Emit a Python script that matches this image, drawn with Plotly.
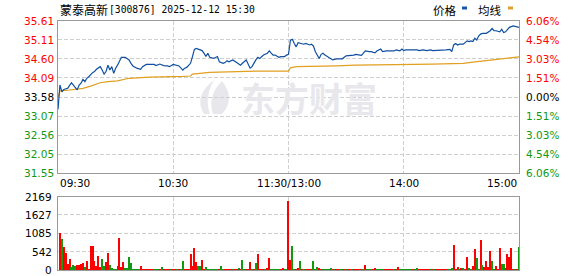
import plotly.graph_objects as go

W, H = 578, 276

# ---------------- data ----------------
stock_name = "蒙泰高新"
stock_info = "[300876] 2025-12-12 15:30"
prev_close = 33.58
price_ticks = [35.61, 35.11, 34.60, 34.09, 33.58, 33.07, 32.56, 32.05, 31.55]
pct_ticks = ["6.06%", "4.54%", "3.03%", "1.51%", "0.00%", "1.51%", "3.03%", "4.54%", "6.06%"]
vol_ticks = [0, 542, 1085, 1627, 2169]
time_labels = ["09:30", "10:30", "11:30/13:00", "14:00", "15:00"]
legend_labels = ["价格", "均线"]
watermark = "东方财富"

price_times = [
    "09:30", "09:31", "09:32", "09:33", "09:35", "09:37", "09:38", "09:39", "09:40", "09:41",
    "09:42", "09:43", "09:44", "09:45", "09:46", "09:48", "09:49", "09:50", "09:52", "09:53",
    "09:54", "09:55", "09:56", "09:57", "09:58", "09:59", "10:00", "10:01", "10:02", "10:03",
    "10:05", "10:07", "10:08", "10:09", "10:11", "10:13", "10:14", "10:16", "10:20", "10:21",
    "10:23", "10:25", "10:27", "10:28", "10:30", "10:32", "10:33", "10:35", "10:36", "10:37",
    "10:39", "10:40", "10:41", "10:42", "10:44", "10:45", "10:46", "10:47", "10:48", "10:49",
    "10:51", "10:53", "10:54", "10:56", "10:57", "10:58", "10:59", "11:01", "11:03", "11:05",
    "11:06", "11:08", "11:10", "11:11", "11:13", "11:14", "11:15", "11:17", "11:19", "11:20",
    "11:21", "11:22", "11:23", "11:25", "11:26", "11:28", "11:29", "11:30",
    "13:01", "13:02", "13:03", "13:04", "13:05", "13:06", "13:08", "13:09", "13:11", "13:12",
    "13:13", "13:14", "13:15", "13:16", "13:17", "13:18", "13:19", "13:21", "13:22", "13:23",
    "13:25", "13:27", "13:28", "13:30", "13:32", "13:34", "13:35", "13:38", "13:39", "13:40",
    "13:42", "13:43", "13:45", "13:46", "13:48", "13:49", "13:51", "13:53", "13:55", "13:56",
    "13:58", "13:59", "14:00", "14:01", "14:03", "14:05", "14:07", "14:08", "14:10", "14:12",
    "14:14", "14:15", "14:17", "14:19", "14:21", "14:22", "14:24", "14:25", "14:26", "14:27",
    "14:28", "14:29", "14:31", "14:32", "14:33", "14:34", "14:35", "14:36", "14:37", "14:38",
    "14:39", "14:40", "14:41", "14:43", "14:45", "14:46", "14:47", "14:48", "14:50", "14:51",
    "14:52", "14:53", "14:54", "14:55", "14:57", "14:59", "15:00",
]
price_values = [
    33.25, 33.90, 33.72, 33.78, 33.81, 33.96, 33.90, 33.83, 33.77, 33.90,
    33.95, 34.05, 33.99, 34.08, 34.12, 34.23, 34.26, 34.32, 34.39, 34.30,
    34.19, 34.26, 34.43, 34.30, 34.39, 34.21, 34.35, 34.43, 34.52, 34.64,
    34.64, 34.57, 34.48, 34.41, 34.35, 34.32, 34.39, 34.45, 34.45, 34.42,
    34.46, 34.42, 34.41, 34.39, 34.45, 34.42, 34.41, 34.30, 34.35, 34.37,
    34.48, 34.66, 34.85, 34.88, 34.84, 34.82, 34.75, 34.66, 34.75, 34.64,
    34.61, 34.66, 34.52, 34.48, 34.50, 34.55, 34.52, 34.57, 34.50, 34.43,
    34.48, 34.57, 34.35, 34.39, 34.57, 34.64, 34.61, 34.70, 34.75, 34.81,
    34.75, 34.70, 34.70, 34.64, 34.66, 34.66, 34.70, 34.72,
    35.10, 35.12, 35.01, 34.92, 35.03, 35.01, 34.99, 35.01, 34.97, 34.99,
    34.94, 34.79, 34.70, 34.61, 34.72, 34.75, 34.70, 34.64, 34.61, 34.57,
    34.60, 34.61, 34.60, 34.68, 34.68, 34.70, 34.72, 34.69, 34.75, 34.81,
    34.79, 34.79, 34.76, 34.81, 34.86, 34.79, 34.81, 34.82, 34.81, 34.84,
    34.81, 34.86, 34.82, 34.84, 34.84, 34.85, 34.84, 34.82, 34.84, 34.82,
    34.84, 34.82, 34.82, 34.84, 34.82, 34.84, 34.85, 34.79, 34.97, 35.01,
    34.97, 34.99, 34.99, 35.03, 35.08, 35.06, 35.08, 35.06, 35.15, 35.10,
    35.21, 35.26, 35.28, 35.28, 35.35, 35.41, 35.35, 35.35, 35.32, 35.39,
    35.30, 35.32, 35.39, 35.44, 35.48, 35.46, 35.44,
]

avg_times = [
    "09:30", "09:31", "09:35", "09:40", "09:43", "09:47", "09:52", "09:56", "10:01", "10:07",
    "10:18", "10:35", "10:39", "10:40", "10:49", "11:13", "11:30", "13:01", "13:04", "13:25",
    "13:35", "14:15", "14:31", "14:36", "14:43", "14:50", "14:55", "15:00",
]
avg_values = [
    33.57, 33.74, 33.76, 33.79, 33.81, 33.87, 33.96, 33.99, 34.01, 34.08,
    34.11, 34.13, 34.14, 34.19, 34.24, 34.27, 34.27, 34.36, 34.39, 34.41,
    34.43, 34.46, 34.48, 34.51, 34.55, 34.59, 34.63, 34.65,
]

# volume per minute, 09:31 .. 11:30 then 13:01 .. 15:00
volumes = [
    1100, 920, 680, 530, 200, 350, 110, 170, 140, 150,
    170, 200, 230, 110, 290, 45, 710, 710, 290, 140,
    440, 110, 350, 140, 260, 530, 170, 60, 45, 45,
    140, 950, 110, 260, 60, 60, 410, 230, 45, 45,
    45, 45, 140, 45, 55, 45, 45, 55, 45, 45,
    45, 55, 45, 110, 45, 45, 55, 45, 45, 55,
    45, 45, 55, 45, 290, 45, 55, 45, 500, 140,
    650, 260, 140, 140, 320, 45, 110, 45, 55, 45,
    45, 55, 45, 45, 140, 45, 55, 45, 45, 55,
    45, 45, 55, 60, 45, 320, 45, 55, 45, 260,
    45, 55, 230, 500, 45, 55, 45, 45, 80, 380,
    45, 55, 45, 45, 55, 45, 60, 45, 55, 2040,
    320, 710, 45, 55, 60, 290, 45, 55, 45, 45,
    55, 45, 290, 45, 110, 60, 45, 55, 45, 45,
    55, 60, 45, 45, 55, 45, 45, 55, 45, 45,
    55, 45, 45, 55, 45, 45, 55, 45, 45, 170,
    45, 55, 45, 45, 60, 45, 55, 45, 45, 55,
    45, 45, 55, 45, 45, 55, 110, 45, 45, 55,
    45, 45, 55, 45, 45, 55, 60, 45, 45, 55,
    45, 45, 55, 45, 45, 55, 45, 45, 55, 45,
    45, 55, 45, 45, 60, 740, 45, 110, 45, 80,
    60, 45, 410, 80, 45, 140, 640, 380, 45, 900,
    170, 110, 290, 110, 590, 290, 45, 140, 45, 650,
    200, 200, 80, 500, 410, 650, 45, 45, 45, 680,
]
# r = up minute (red), g = down minute (green)
volume_dirs = "".join([
    "rgrrrrgggr", "rrrgrrrrrr", "rrggrrgggg", "rrrrgggggg", "ggrrrrrrrg", "ggrgrgrrgr",
    "rgrggrrrrr", "rrggrrgggg", "gggrggrrrr", "grrgrggrrr", "grgrrrrgrr", "gggggrrggr",
    "rggrrgrgrr", "rrgggrrggg", "ggrgrrggrg", "rrgrrrgrgr", "gggrrggggr", "rrrrgrrggg",
    "ggggrggrrr", "rrrgrgrrrr", "rrgggrrrgr", "grrggrrggr", "grrrrggrrr", "ggrrrrrgrg",
])

# ---------------- helpers ----------------
def to_idx(t):
    h, m = map(int, t.split(":"))
    mins = h * 60 + m
    if mins <= 11 * 60 + 30:
        return mins - (9 * 60 + 30)
    return 120 + mins - 13 * 60

def fmt(mins):
    return "%02d:%02d" % (mins // 60, mins % 60)

vol_times = [fmt(9 * 60 + 30 + k) for k in range(1, 121)] + [fmt(13 * 60 + k) for k in range(1, 121)]

def pxx(x):
    return x / W

def pxy(y):
    return 1 - y / H

RED = "#ff0000"
GREEN = "#119911"
BLUE = "#0f4f9f"
ORANGE = "#e0a020"
GRID = "#cfcfcf"
FRAME = "#9a9a9a"
FONT = "DejaVu Sans"

fig = go.Figure()

fig.add_trace(go.Scatter(
    x=[to_idx(t) for t in avg_times], y=avg_values, mode="lines",
    line=dict(color=ORANGE, width=1.2), xaxis="x", yaxis="y", hoverinfo="skip",
))
fig.add_trace(go.Scatter(
    x=[to_idx(t) for t in price_times], y=price_values, mode="lines",
    line=dict(color=BLUE, width=1.2), xaxis="x", yaxis="y", hoverinfo="skip",
))
fig.add_trace(go.Bar(
    x=[to_idx(t) for t in vol_times], y=volumes, width=0.55,
    marker=dict(color=[RED if d == "r" else GREEN for d in volume_dirs], line=dict(width=0)),
    xaxis="x2", yaxis="y2", hoverinfo="skip",
))

x_dom = [pxx(58), pxx(519)]
axis_common = dict(
    showline=True, mirror=True, linecolor=FRAME, linewidth=1,
    showgrid=True, gridcolor=GRID, gridwidth=1, griddash="4px,2px",
    zeroline=False, ticks="", showticklabels=False, fixedrange=True,
)

fig.update_layout(
    width=W, height=H, margin=dict(l=0, r=0, t=0, b=0),
    paper_bgcolor="white", plot_bgcolor="white", showlegend=False,
    bargap=0,
    xaxis=dict(domain=x_dom, range=[0, 240], tickvals=[60, 120, 180], anchor="y", **axis_common),
    yaxis=dict(domain=[pxy(173), pxy(21)], range=[price_ticks[-1], price_ticks[0]],
               tickvals=price_ticks[1:-1], anchor="x", **axis_common),
    xaxis2=dict(domain=x_dom, range=[0, 240], tickvals=[60, 120, 180], anchor="y2", **axis_common),
    yaxis2=dict(domain=[pxy(270), pxy(196.5)], range=[vol_ticks[0], vol_ticks[-1]],
                tickvals=vol_ticks[1:-1], anchor="x2", **axis_common),
)

ann = []
# watermark
ann.append(dict(x=pxx(309), y=pxy(97), xref="paper", yref="paper", text="<b>" + watermark + "</b>",
                showarrow=False, font=dict(family="Noto Sans CJK SC", size=34, color="#e8e8ec")))

def tick_color(v):
    if abs(v - prev_close) < 1e-6:
        return "#000000"
    return RED if v > prev_close else GREEN

for v, p in zip(price_ticks, pct_ticks):
    c = tick_color(v)
    ann.append(dict(x=pxx(55.5), y=v, xref="paper", yref="y", text="%.2f" % v, xanchor="right",
                    yanchor="middle", showarrow=False, font=dict(family=FONT, size=10.5, color=c)))
    ann.append(dict(x=pxx(523.5), y=v, xref="paper", yref="y", text=p, xanchor="left",
                    yanchor="middle", showarrow=False, font=dict(family=FONT, size=10.5, color=c)))

for v in vol_ticks:
    ann.append(dict(x=pxx(53.5), y=v, xref="paper", yref="y2", text=str(v), xanchor="right",
                    yanchor="middle", showarrow=False, font=dict(family=FONT, size=10.5, color="#000000")))

label_pos = [0, 60, 120, 180, 240]
anchors = ["left", "center", "center", "center", "right"]
for lbl, pos, a in zip(time_labels, label_pos, anchors):
    ann.append(dict(x=pos, y=pxy(183), xref="x", yref="paper", text=lbl, xanchor=a,
                    yanchor="middle", showarrow=False, font=dict(family=FONT, size=10.5, color="#000000")))

# title
ann.append(dict(x=pxx(57.5), y=pxy(9.5), xref="paper", yref="paper", text=stock_name, xanchor="left",
                yanchor="middle", showarrow=False, font=dict(family="Noto Sans CJK SC", size=12, color="#000000")))
ann.append(dict(x=pxx(106.5), y=pxy(9.5), xref="paper", yref="paper", text=stock_info, xanchor="left",
                yanchor="middle", showarrow=False, font=dict(family="DejaVu Sans Mono", size=9.7, color="#000000")))
# legend
ann.append(dict(x=pxx(431), y=pxy(10), xref="paper", yref="paper", text=legend_labels[0], xanchor="left",
                yanchor="middle", showarrow=False, font=dict(family="Noto Sans CJK SC", size=11.5, color="#000000")))
ann.append(dict(x=pxx(476), y=pxy(10), xref="paper", yref="paper", text=legend_labels[1], xanchor="left",
                yanchor="middle", showarrow=False, font=dict(family="Noto Sans CJK SC", size=11.5, color="#000000")))

shapes = [
    dict(type="rect", xref="paper", yref="paper", x0=pxx(462), x1=pxx(467), y0=pxy(9.5), y1=pxy(6.5),
         fillcolor="#1a56a8", line=dict(width=0)),
    dict(type="rect", xref="paper", yref="paper", x0=pxx(508), x1=pxx(513), y0=pxy(9.5), y1=pxy(6.5),
         fillcolor="#e0a030", line=dict(width=0)),
]

# watermark logo (decorative)
def path(points):
    s = "M %f,%f" % (pxx(points[0][0]), pxy(points[0][1]))
    i = 1
    while i < len(points):
        (cx, cy), (ex, ey) = points[i], points[i + 1]
        s += " Q %f,%f %f,%f" % (pxx(cx), pxy(cy), pxx(ex), pxy(ey))
        i += 2
    return s + " Z"

shapes.append(dict(type="path", xref="paper", yref="paper", layer="below",
                   path=path([(204, 114), (193, 96), (214, 80), (204, 98), (210, 114)]),
                   fillcolor="#e8e8ec", line=dict(width=0)))
shapes.append(dict(type="path", xref="paper", yref="paper", layer="below",
                   path=path([(213, 114), (207, 96), (222, 81), (236, 99), (222, 114)]),
                   fillcolor="#e8e8ec", line=dict(width=0)))

fig.update_layout(annotations=ann, shapes=shapes)
fig.write_html("out.html")
